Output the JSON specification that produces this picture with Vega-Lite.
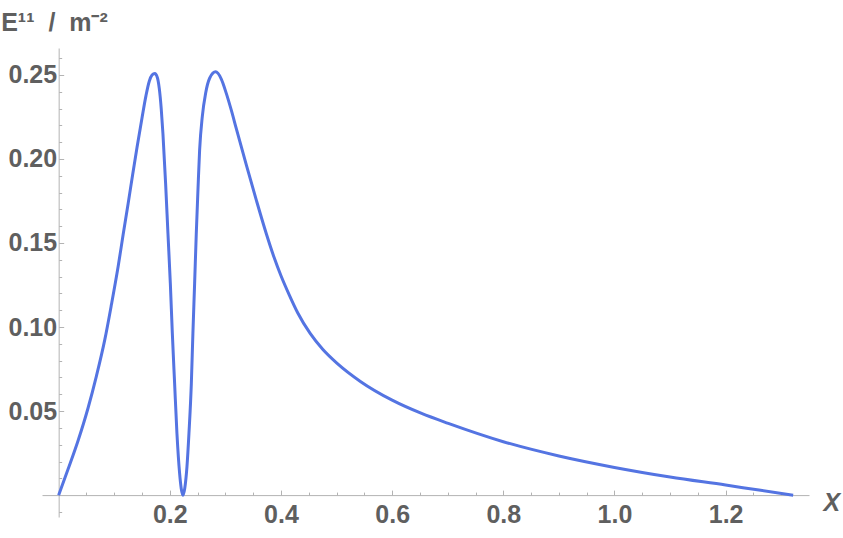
{
  "$schema": "https://vega.github.io/schema/vega-lite/v6.json",
  "width": 767,
  "height": 469,
  "autosize": {"type": "none"},
  "padding": {"left": 42, "top": 48, "right": 34, "bottom": 21},
  "background": "white",
  "config": {
    "view": {"stroke": null},
    "axis": {
      "grid": false,
      "domainColor": "#b3b3b3",
      "tickColor": "#b3b3b3",
      "labelFont": "Liberation Sans",
      "labelFontWeight": "bold",
      "labelFontSize": 25,
      "labelColor": "#5f5f5f",
      "titleFont": "Liberation Sans",
      "titleFontWeight": "bold",
      "titleFontSize": 25,
      "titleColor": "#5f5f5f"
    }
  },
  "data": {
    "values": [
      {"x": 0, "y": 0},
      {"x": 0.017, "y": 0.0155},
      {"x": 0.035, "y": 0.0325},
      {"x": 0.053, "y": 0.052},
      {"x": 0.068, "y": 0.071},
      {"x": 0.083, "y": 0.0925},
      {"x": 0.095, "y": 0.1135},
      {"x": 0.107, "y": 0.136},
      {"x": 0.116, "y": 0.155},
      {"x": 0.125, "y": 0.1735},
      {"x": 0.133, "y": 0.1905},
      {"x": 0.141, "y": 0.207},
      {"x": 0.15, "y": 0.2245},
      {"x": 0.157, "y": 0.2375},
      {"x": 0.163, "y": 0.2462},
      {"x": 0.168, "y": 0.2499},
      {"x": 0.173, "y": 0.2508},
      {"x": 0.1775, "y": 0.2485},
      {"x": 0.181, "y": 0.242},
      {"x": 0.1845, "y": 0.23},
      {"x": 0.1876, "y": 0.215},
      {"x": 0.1924, "y": 0.1855},
      {"x": 0.1966, "y": 0.1558},
      {"x": 0.2009, "y": 0.126},
      {"x": 0.2045, "y": 0.0962},
      {"x": 0.2086, "y": 0.0665},
      {"x": 0.2128, "y": 0.0367},
      {"x": 0.2176, "y": 0.0129},
      {"x": 0.2205, "y": 0.004},
      {"x": 0.2236, "y": 0},
      {"x": 0.2268, "y": 0.004},
      {"x": 0.2308, "y": 0.0168},
      {"x": 0.2344, "y": 0.0367},
      {"x": 0.2387, "y": 0.0665},
      {"x": 0.2415, "y": 0.0962},
      {"x": 0.2446, "y": 0.126},
      {"x": 0.2476, "y": 0.1558},
      {"x": 0.2506, "y": 0.1815},
      {"x": 0.2536, "y": 0.2054},
      {"x": 0.2584, "y": 0.2252},
      {"x": 0.2644, "y": 0.2391},
      {"x": 0.2716, "y": 0.248},
      {"x": 0.2824, "y": 0.2518},
      {"x": 0.2926, "y": 0.2475},
      {"x": 0.3016, "y": 0.239},
      {"x": 0.3106, "y": 0.229},
      {"x": 0.3196, "y": 0.218},
      {"x": 0.3376, "y": 0.1965},
      {"x": 0.3556, "y": 0.1755},
      {"x": 0.3736, "y": 0.1555},
      {"x": 0.3875, "y": 0.1415},
      {"x": 0.4, "y": 0.1305},
      {"x": 0.415, "y": 0.119},
      {"x": 0.43, "y": 0.1085},
      {"x": 0.4525, "y": 0.0962},
      {"x": 0.475, "y": 0.0868},
      {"x": 0.501, "y": 0.0784},
      {"x": 0.5435, "y": 0.0675},
      {"x": 0.6, "y": 0.0565},
      {"x": 0.653, "y": 0.0486},
      {"x": 0.701, "y": 0.0427},
      {"x": 0.8, "y": 0.0318},
      {"x": 0.9, "y": 0.0233},
      {"x": 1.0, "y": 0.0165},
      {"x": 1.1, "y": 0.0108},
      {"x": 1.2, "y": 0.006},
      {"x": 1.26, "y": 0.003},
      {"x": 1.3215, "y": 0}
    ]
  },
  "layer": [
    {
      "mark": {"type": "line", "opacity": 0},
      "encoding": {
        "x": {
          "field": "x", "type": "quantitative",
          "scale": {"domain": [-0.03, 1.35], "nice": false, "zero": false},
          "axis": {
            "orient": "bottom",
            "values": [0.05, 0.1, 0.15, 0.25, 0.3, 0.35, 0.45, 0.5, 0.55, 0.65, 0.7, 0.75, 0.85, 0.9, 0.95, 1.05, 1.1, 1.15, 1.25, 1.3],
            "labels": false, "domain": false, "tickSize": -3, "offset": -21.9, "title": null
          }
        },
        "y": {
          "field": "y", "type": "quantitative",
          "scale": {"domain": [-0.013, 0.266], "nice": false, "zero": false},
          "axis": {
            "orient": "left",
            "values": [-0.01, 0.01, 0.02, 0.03, 0.04, 0.06, 0.07, 0.08, 0.09, 0.11, 0.12, 0.13, 0.14, 0.16, 0.17, 0.18, 0.19, 0.21, 0.22, 0.23, 0.24, 0.26],
            "labels": false, "domain": false, "tickSize": -3, "offset": -16.67, "title": null
          }
        }
      }
    },
    {
      "mark": {"type": "line", "color": "#5474E2", "strokeWidth": 3, "interpolate": "monotone"},
      "encoding": {
        "x": {
          "field": "x", "type": "quantitative",
          "axis": {
            "orient": "bottom",
            "values": [0.2, 0.4, 0.6, 0.8, 1.0, 1.2],
            "format": ".1f",
            "tickSize": -5,
            "labelPadding": 12,
            "offset": -21.9,
            "title": "Χ",
            "titleFontStyle": "italic",
            "titleAngle": 0,
            "titleAlign": "left",
            "titleBaseline": "alphabetic",
            "titleX": 781,
            "titleY": 15
          }
        },
        "y": {
          "field": "y", "type": "quantitative",
          "axis": {
            "orient": "left",
            "values": [0.05, 0.1, 0.15, 0.2, 0.25],
            "format": ".2f",
            "tickSize": -5,
            "labelPadding": 7,
            "offset": -16.67,
            "title": "E¹¹\u00a0\u00a0/\u00a0\u00a0m⁻²",
            "titleAngle": 0,
            "titleAlign": "left",
            "titleBaseline": "alphabetic",
            "titleX": -58,
            "titleY": -18
          }
        }
      }
    }
  ],
  "resolve": {"axis": {"x": "independent", "y": "independent"}}
}
